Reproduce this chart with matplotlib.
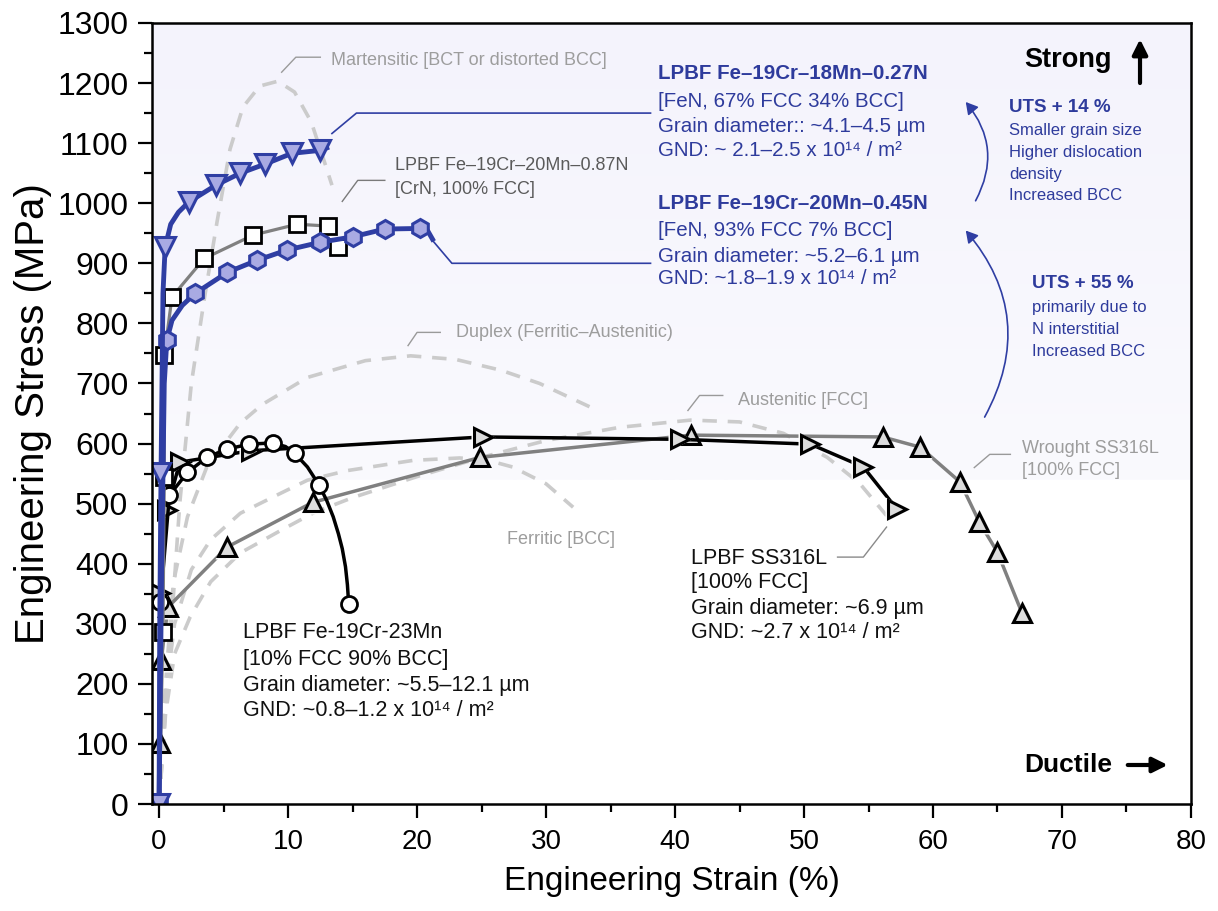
import numpy as np
import matplotlib
matplotlib.use("Agg")
import matplotlib.pyplot as plt
from matplotlib.patches import FancyArrowPatch
from matplotlib.ticker import MultipleLocator

plt.rcParams['font.family'] = ['Liberation Sans', 'DejaVu Sans']

# ---------------- data ----------------
# LPBF Fe-19Cr-18Mn-0.27N (blue, down triangles)
n027_line_x = [0, 0.05, 0.15, 0.3, 0.47, 0.9, 1.5, 2.3, 4.4, 6.3, 8.2, 10.3, 12.5, 13.0]
n027_line_y = [0, 300, 550, 850, 927, 965, 985, 1002, 1030, 1050, 1065, 1083, 1088, 1092]
n027_mk_x = [0, 0.05, 0.47, 2.3, 4.4, 6.3, 8.2, 10.3, 12.5]
n027_mk_y = [0, 551, 927, 1002, 1030, 1050, 1065, 1083, 1088]

# LPBF Fe-19Cr-20Mn-0.45N (blue, hexagons)
n045_line_x = [0, 0.2, 0.4, 0.6, 1.0, 1.8, 2.8, 5.3, 7.6, 9.9, 12.5, 15.0, 17.5, 20.2, 20.8, 21.2]
n045_line_y = [0, 400, 700, 772, 805, 830, 850, 885, 905, 922, 935, 944, 957, 958, 955, 940]
n045_mk_x = [0, 0.6, 2.8, 5.3, 7.6, 9.9, 12.5, 15.0, 17.5, 20.2]
n045_mk_y = [0, 772, 850, 885, 905, 922, 935, 944, 957, 958]

# LPBF Fe-19Cr-20Mn-0.87N (gray line, squares)
n087_line_x = [0, 0.3, 0.4, 0.4, 1.0, 3.5, 7.3, 10.7, 13.1]
n087_line_y = [0, 286, 544, 747, 844, 908, 947, 965, 962]
n087_mk_x = [0.3, 0.4, 0.4, 1.0, 3.5, 7.3, 10.7, 13.1, 13.9]
n087_mk_y = [286, 544, 747, 844, 908, 947, 965, 962, 927]

# LPBF Fe-19Cr-23Mn (black line, circles)
mn23_line_x = [0, 0.1, 0.8, 2.2, 3.7, 5.3, 7.0, 8.8, 9.8, 10.5, 11.5, 12.4, 13.0, 13.5, 13.9, 14.2, 14.45, 14.6, 14.7]
mn23_line_y = [0, 336, 514, 552, 577, 591, 599, 601, 595, 584, 561, 531, 505, 478, 450, 425, 395, 365, 333]
mn23_mk_x = [0.1, 0.8, 2.2, 3.7, 5.3, 7.0, 8.8, 10.5, 12.4, 14.7]
mn23_mk_y = [336, 514, 552, 577, 591, 599, 601, 584, 531, 333]

# LPBF SS316L (black line, right triangles)
lp316_x = [0, 0.1, 0.6, 1.6, 7.1, 25.1, 40.4, 50.5, 54.6, 57.2]
lp316_y = [0, 351, 489, 569, 588, 611, 607, 599, 561, 491]

# Wrought SS316L (gray line, up triangles)
wr316_x = [0, 0.1, 0.15, 0.7, 5.3, 11.9, 24.9, 41.2, 56.1, 59.0, 62.1, 63.6, 65.0, 66.9]
wr316_y = [0, 101, 240, 328, 428, 502, 577, 614, 611, 594, 536, 469, 419, 318]

# Reference classes (dashed gray)
mart_x = [0, 0.8, 1.6, 2.5, 3.5, 4.5, 5.5, 6.5, 7.8, 9.2, 10.5, 11.8, 12.8, 13.4]
mart_y = [0, 250, 500, 700, 840, 970, 1090, 1160, 1195, 1203, 1185, 1135, 1070, 1030]
dup_x = [0, 0.5, 1.1, 2.2, 3.7, 6.3, 8.0, 11.5, 16.0, 19.5, 23.0, 26.5, 29.5, 32.0, 34.0]
dup_y = [0, 200, 368, 478, 561, 634, 665, 710, 738, 746, 740, 722, 700, 675, 655]
fer_x = [0, 0.5, 1.2, 2.5, 4.0, 6.3, 9.4, 11.5, 14.6, 19.7, 23.3, 25.5, 27.4, 30.0, 32.1]
fer_y = [0, 180, 300, 390, 440, 484, 517, 539, 555, 572, 576, 572, 561, 533, 494]
aus_x = [0, 0.5, 1.2, 2.4, 4.0, 6.3, 9.4, 12.0, 15.0, 20.0, 25.0, 30.0, 35.7, 41.2, 45.0, 48.4, 51.8, 54.3, 56.4]
aus_y = [0, 150, 250, 311, 370, 418, 455, 485, 510, 545, 577, 605, 627, 639, 636, 617, 577, 534, 480]

# ---------------- styling ----------------
BLUE = '#2f3ea3'
LAV = '#a9aae3'
TBLUE = '#2e3b9c'
DASH = '#cbcbcb'
GRAY = '#808080'
LGRAY = '#dcdcdc'
LEAD = '#9a9a9a'

fig = plt.figure(figsize=(12.18, 9.11), dpi=100)
ax = fig.add_axes([0.1248, 0.1174, 0.853, 0.8574])
ax.set_xlim(-0.55, 80)
ax.set_ylim(0, 1300)

# background gradient (top part lavender)
grad = np.linspace(0, 1, 256).reshape(-1, 1)
top = np.array([244, 243, 252]) / 255
bot = np.array([250, 250, 254]) / 255
img = top[None, None, :] * (1 - grad[:, :, None]) + bot[None, None, :] * grad[:, :, None]
ax.imshow(img, extent=[0, 1, 540 / 1300, 1], transform=ax.transAxes, aspect='auto', zorder=0)

dash_kw = dict(color=DASH, lw=2.6, ls=(0, (4, 3)), zorder=1, solid_capstyle='butt')
for xx, yy in [(mart_x, mart_y), (dup_x, dup_y), (fer_x, fer_y), (aus_x, aus_y)]:
    ax.plot(xx, yy, **dash_kw)

# wrought SS316L
ax.plot(wr316_x, wr316_y, color=GRAY, lw=2.5, zorder=2)
ax.plot(wr316_x[1:], wr316_y[1:], ls='none', marker='^', ms=17, mfc='white', mec='none', zorder=3)
ax.plot(wr316_x[1:], wr316_y[1:], ls='none', marker='^', ms=13, mfc=LGRAY, mec='black', mew=2.2, zorder=4)

# LPBF SS316L
ax.plot(lp316_x, lp316_y, color='black', lw=2.5, zorder=5)
ax.plot(lp316_x[1:], lp316_y[1:], ls='none', marker='>', ms=17, mfc='white', mec='none', zorder=6)
ax.plot(lp316_x[1:], lp316_y[1:], ls='none', marker='>', ms=13, mfc=LGRAY, mec='black', mew=2.2, zorder=7)

# Fe-19Cr-23Mn
ax.plot(mn23_line_x, mn23_line_y, color='black', lw=2.5, zorder=8)
ax.plot(mn23_mk_x, mn23_mk_y, ls='none', marker='o', ms=11.5, mfc='white', mec='black', mew=2.0, zorder=9)

# 0.87N
ax.plot(n087_line_x, n087_line_y, color=GRAY, lw=2.3, zorder=10)
ax.plot(n087_mk_x, n087_mk_y, ls='none', marker='s', ms=11, mfc='white', mec='black', mew=2.0, zorder=11)

# 0.45N
ax.plot(n045_line_x, n045_line_y, color=BLUE, lw=3.5, zorder=12)
ax.plot(n045_mk_x, n045_mk_y, ls='none', marker='h', ms=13, mfc=LAV, mec=BLUE, mew=2.2, zorder=13)

# 0.27N
ax.plot(n027_line_x, n027_line_y, color=BLUE, lw=3.5, zorder=14)
ax.plot(n027_mk_x, n027_mk_y, ls='none', marker='v', ms=14, mfc=LAV, mec=BLUE, mew=2.2, zorder=15)

# ---------------- axes ----------------
for s in ax.spines.values():
    s.set_linewidth(1.8)
    s.set_zorder(20)
ax.xaxis.set_major_locator(MultipleLocator(10))
ax.xaxis.set_minor_locator(MultipleLocator(5))
ax.yaxis.set_major_locator(MultipleLocator(100))
ax.yaxis.set_minor_locator(MultipleLocator(50))
ax.tick_params(which='major', direction='out', length=10, width=1.6)
ax.tick_params(which='minor', direction='out', length=6, width=1.6)
ax.tick_params(axis='y', which='major', labelsize=23, pad=7)
ax.tick_params(axis='x', which='major', labelsize=20, pad=8)
ax.set_xlabel('Engineering Strain (%)', fontsize=24, labelpad=8)
ax.set_ylabel('Engineering Stress (MPa)', fontsize=29, labelpad=4)

# ---------------- annotations ----------------
def leader(xs, ys, color=LEAD, lw=1.0):
    ax.plot(xs, ys, color=color, lw=lw, zorder=16, clip_on=False)

SUP = '10\u00b9\u2074 / m\u00b2'

gtxt = dict(color='#9d9d9d', fontsize=13, zorder=17)
leader([9.5, 10.6, 12.5], [1218, 1243, 1243])
ax.text(13.3, 1238, 'Martensitic [BCT or distorted BCC]', va='center', ha='left', **gtxt)
leader([19.3, 20.0, 21.8], [763, 785, 785])
ax.text(23.0, 785, 'Duplex (Ferritic\u2013Austenitic)', va='center', ha='left', **gtxt)
leader([41.0, 41.9, 43.7], [655, 680, 680])
ax.text(44.9, 672, 'Austenitic [FCC]', va='center', ha='left', **gtxt)
ax.text(27.0, 441, 'Ferritic [BCC]', va='center', ha='left', **gtxt)
leader([63.2, 64.4, 66.0], [560, 582, 582])
ax.text(66.9, 592, 'Wrought SS316L', va='center', ha='left', **gtxt)
ax.text(66.9, 555, '[100% FCC]', va='center', ha='left', **gtxt)

leader([14.2, 15.4, 17.5], [1003, 1038, 1038], color='#7a7a7a')
ax.text(18.3, 1063, 'LPBF Fe\u201319Cr\u201320Mn\u20130.87N', va='center', ha='left',
        color='#5a5a5a', fontsize=13, zorder=17)
ax.text(18.3, 1022, '[CrN, 100% FCC]', va='center', ha='left',
        color='#5a5a5a', fontsize=13, zorder=17)

# black text blocks (line by line)
btxt = dict(va='center', ha='left', color='#111111', fontsize=15.5, zorder=17)
leader([56.4, 54.6, 52.6], [461, 411, 411], color='#8a8a8a')
for yv, s in zip([409, 368, 326, 285],
                 ['LPBF SS316L', '[100% FCC]', 'Grain diameter: ~6.9 \u00b5m', 'GND: ~2.7 x ' + SUP]):
    ax.text(41.2, yv, s, **btxt)
for yv, s in zip([285, 241, 198, 155],
                 ['LPBF Fe-19Cr-23Mn', '[10% FCC 90% BCC]', 'Grain diameter: ~5.5\u201312.1 \u00b5m',
                  'GND: ~0.8\u20131.2 x ' + SUP]):
    ax.text(6.5, yv, s, **btxt)

# blue leaders and text
leader([13.4, 15.3, 38.1], [1116, 1150, 1150], color=BLUE, lw=1.2)
leader([21.2, 22.7, 38.1], [938, 900, 900], color=BLUE, lw=1.2)
bl = dict(va='center', ha='left', color=TBLUE, fontsize=14.8, zorder=17)
ax.text(38.7, 1216, 'LPBF Fe\u201319Cr\u201318Mn\u20130.27N', fontweight='bold', **bl)
for yv, s in zip([1170, 1128, 1088],
                 ['[FeN, 67% FCC 34% BCC]', 'Grain diameter:: ~4.1\u20134.5 \u00b5m', 'GND: ~ 2.1\u20132.5 x ' + SUP]):
    ax.text(38.7, yv, s, **bl)
ax.text(38.7, 1000, 'LPBF Fe\u201319Cr\u201320Mn\u20130.45N', fontweight='bold', **bl)
for yv, s in zip([955, 912, 874],
                 ['[FeN, 93% FCC 7% BCC]', 'Grain diameter: ~5.2\u20136.1 \u00b5m', 'GND: ~1.8\u20131.9 x ' + SUP]):
    ax.text(38.7, yv, s, **bl)

sm = dict(va='center', ha='left', color=TBLUE, fontsize=12, zorder=17)
ax.text(65.9, 1160, 'UTS + 14 %', va='center', ha='left', color=TBLUE, fontsize=13.5,
        fontweight='bold', zorder=17)
for yv, s in zip([1121, 1085, 1048, 1012],
                 ['Smaller grain size', 'Higher dislocation', 'density', 'Increased BCC']):
    ax.text(65.9, yv, s, **sm)
ax.text(67.7, 867, 'UTS + 55 %', va='center', ha='left', color=TBLUE, fontsize=13.5,
        fontweight='bold', zorder=17)
for yv, s in zip([827, 790, 754], ['primarily due to', 'N interstitial', 'Increased BCC']):
    ax.text(67.7, yv, s, **sm)

arr1 = FancyArrowPatch((63.2, 1000), (62.4, 1172), connectionstyle='arc3,rad=0.35',
                       arrowstyle='-|>,head_length=7,head_width=4', color=BLUE, lw=1.2, zorder=17)
arr2 = FancyArrowPatch((63.9, 640), (62.4, 958), connectionstyle='arc3,rad=0.35',
                       arrowstyle='-|>,head_length=7,head_width=4', color=BLUE, lw=1.2, zorder=17)
ax.add_patch(arr1)
ax.add_patch(arr2)

ax.text(67.1, 1238, 'Strong', va='center', ha='left', fontsize=19.5, fontweight='bold', zorder=17)
ax.annotate('', xy=(76.05, 1273), xytext=(76.05, 1200),
            arrowprops=dict(arrowstyle='-|>,head_length=0.9,head_width=0.45', color='black', lw=3,
                            shrinkA=0, shrinkB=0), zorder=17)
ax.text(67.1, 65, 'Ductile', va='center', ha='left', fontsize=19, fontweight='bold', zorder=17)
ax.annotate('', xy=(78.2, 65), xytext=(75.1, 65),
            arrowprops=dict(arrowstyle='-|>,head_length=0.9,head_width=0.45', color='black', lw=3,
                            shrinkA=0, shrinkB=0), zorder=17)

fig.savefig('out.png', dpi=100)
